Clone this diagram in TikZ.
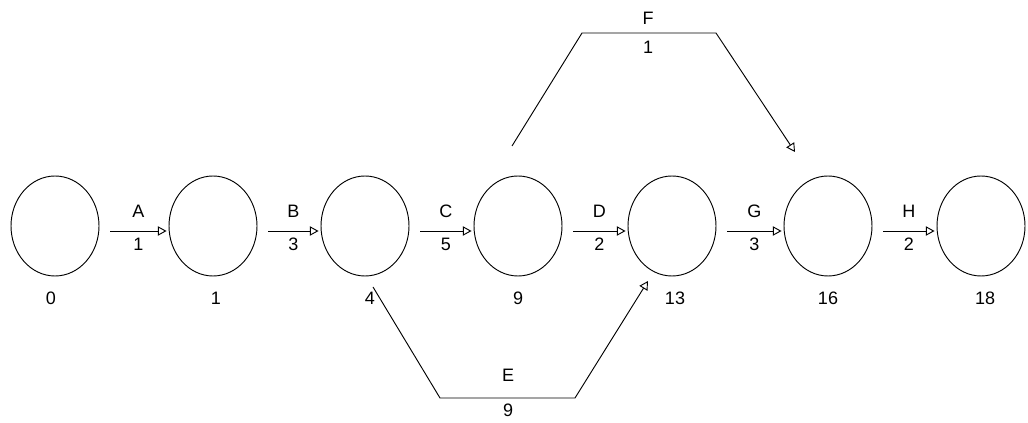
\documentclass[tikz,border=0pt]{standalone}
\usepackage{fontspec}
\setmainfont{Liberation Sans}
\usetikzlibrary{shapes.geometric,arrows.meta}
\begin{document}
\begin{tikzpicture}[x=0.75pt,y=-0.75pt,
  ev/.style={draw,ellipse,minimum width=66pt,minimum height=75pt,inner sep=0pt,line width=0.7pt},
  lbl/.style={font=\fontsize{13.5}{16}\selectfont,inner sep=1pt},
  act/.style={line width=0.7pt,-{Triangle[open,length=6.5pt,width=7pt]}},
]
\useasboundingbox (0,0) rectangle (1028,423);
% events
\node[ev] (e0) at (55,226) {};
\node[ev] (e1) at (213,226) {};
\node[ev] (e2) at (365,226) {};
\node[ev] (e3) at (518,226) {};
\node[ev] (e4) at (672,226) {};
\node[ev] (e5) at (828,226) {};
\node[ev] (e6) at (981,226) {};
% times
\node[lbl] (t0) at (51,298) {0};
\node[lbl] (t1) at (216,298) {1};
\node[lbl] (t2) at (370,298) {4};
\node[lbl] (t3) at (518,298) {9};
\node[lbl] (t4) at (675,298) {13};
\node[lbl] (t5) at (828,298) {16};
\node[lbl] (t6) at (985,298) {18};
% straight activities
\foreach \a/\b/\n/\d in {e0/e1/A/1, e1/e2/B/3, e2/e3/C/5, e3/e4/D/2, e4/e5/G/3, e5/e6/H/2}{
  \draw[act] ([xshift=8pt,yshift=-3.75pt]\a.east) -- ([xshift=-1.5pt,yshift=-3.75pt]\b.west)
    node[lbl,midway,above=8.5pt] {\n} node[lbl,midway,below=4pt] {\d};
}
% F
\coordinate (fs) at (512,146);
\coordinate (f1) at (582,33);
\coordinate (f2) at (716,33);
\coordinate (ft) at (795,152);
\draw[act] (fs) -- (f1) -- (f2) -- (ft);
\node[lbl] (fl) at (648,18) {F};
\node[lbl] (fd) at (648,47) {1};
% E
\coordinate (es) at (373,287);
\coordinate (e1b) at (440,398);
\coordinate (e2b) at (575,398);
\coordinate (et) at (648,281);
\draw[act] (es) -- (e1b) -- (e2b) -- (et);
\node[lbl] (el) at (508,375) {E};
\node[lbl] (ed) at (508,410) {9};
\end{tikzpicture}
\end{document}
